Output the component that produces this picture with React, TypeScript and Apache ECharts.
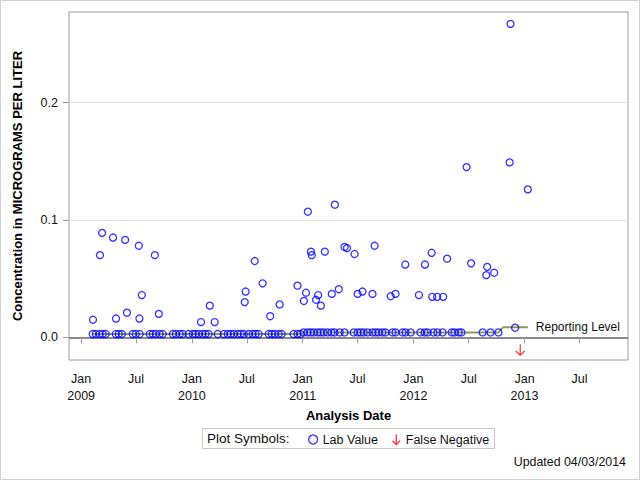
import React, { useEffect, useRef } from 'react';
import * as echarts from 'echarts';

// ---- data ----
const detectDates = [
  '2009-02-09', '2009-03-04', '2009-03-11', '2009-04-16', '2009-04-26', '2009-05-26', '2009-06-01',
  '2009-07-10', '2009-07-12', '2009-07-20', '2009-09-01', '2009-09-14',
  '2010-01-31', '2010-03-01', '2010-03-17', '2010-06-24', '2010-06-27', '2010-07-27', '2010-08-22',
  '2010-09-16', '2010-10-17', '2010-12-15',
  '2011-01-05', '2011-01-12', '2011-01-18', '2011-01-28', '2011-01-31', '2011-02-14', '2011-02-21',
  '2011-03-02', '2011-03-15', '2011-04-07', '2011-04-17', '2011-04-30', '2011-05-19', '2011-05-27',
  '2011-06-21', '2011-07-01', '2011-07-17', '2011-08-19', '2011-08-26', '2011-10-18', '2011-11-03',
  '2011-12-05',
  '2012-01-19', '2012-02-08', '2012-03-01', '2012-03-03', '2012-03-19', '2012-04-08', '2012-04-21',
  '2012-06-24', '2012-07-09', '2012-08-28', '2012-08-31', '2012-09-23', '2012-11-13', '2012-11-16',
  '2012-12-01', '2013-01-12',
];
const detectValues = [
  0.015, 0.070, 0.089, 0.085, 0.016, 0.083, 0.021,
  0.078, 0.016, 0.036, 0.070, 0.020,
  0.013, 0.027, 0.013, 0.030, 0.039, 0.065, 0.046,
  0.018, 0.028, 0.044,
  0.031, 0.038, 0.107, 0.073, 0.070, 0.032, 0.036,
  0.027, 0.073, 0.037, 0.113, 0.041, 0.077, 0.076,
  0.071, 0.037, 0.039, 0.037, 0.078, 0.035, 0.037,
  0.062,
  0.036, 0.062, 0.072, 0.0345, 0.0345, 0.0345, 0.067,
  0.145, 0.063, 0.053, 0.060, 0.055, 0.149, 0.267,
  0.0082, 0.126,
];

const lowDates = [
  '2009-02-08', '2009-02-18', '2009-03-03', '2009-03-13', '2009-03-23', '2009-04-25', '2009-05-05',
  '2009-05-15', '2009-06-20', '2009-06-30', '2009-07-13', '2009-08-15', '2009-08-25', '2009-09-04',
  '2009-09-17', '2009-09-27', '2009-10-30', '2009-11-09', '2009-11-22', '2009-12-02', '2009-12-21',
  '2010-01-04', '2010-01-13', '2010-01-23', '2010-02-05', '2010-02-15', '2010-02-25', '2010-03-27',
  '2010-04-16', '2010-04-29', '2010-05-09', '2010-05-19', '2010-06-01', '2010-06-11', '2010-06-21',
  '2010-07-07', '2010-07-20', '2010-07-30', '2010-08-09', '2010-09-11', '2010-09-21', '2010-10-01',
  '2010-10-14', '2010-10-24', '2010-12-02', '2010-12-15', '2010-12-25',
  '2011-01-04', '2011-01-17', '2011-01-27', '2011-02-06', '2011-02-19', '2011-03-01', '2011-03-11',
  '2011-03-24', '2011-04-06', '2011-04-16', '2011-05-03', '2011-05-19', '2011-06-18', '2011-07-01',
  '2011-07-11', '2011-07-21', '2011-08-03', '2011-08-19', '2011-08-29', '2011-09-08', '2011-09-21',
  '2011-10-01', '2011-10-24', '2011-11-03', '2011-11-26', '2011-12-06', '2011-12-23',
  '2012-01-24', '2012-02-07', '2012-02-17', '2012-03-07', '2012-03-20', '2012-04-06', '2012-05-06',
  '2012-05-15', '2012-05-29', '2012-06-07', '2012-08-16', '2012-09-11', '2012-10-07',
];
const lowValues = [
  0.0028, 0.0028, 0.0028, 0.0028, 0.0028, 0.0028, 0.0028,
  0.0028, 0.0028, 0.0028, 0.0028, 0.0028, 0.0028, 0.0028,
  0.0028, 0.0028, 0.0028, 0.0028, 0.0028, 0.0028, 0.0028,
  0.0028, 0.0028, 0.0028, 0.0028, 0.0028, 0.0028, 0.0028,
  0.0028, 0.0028, 0.0028, 0.0028, 0.0028, 0.0028, 0.0028,
  0.0028, 0.0028, 0.0028, 0.0028, 0.0028, 0.0028, 0.0028,
  0.0028, 0.0028, 0.0028, 0.0028, 0.0028,
  0.0042, 0.0042, 0.0042, 0.0042, 0.0042, 0.0042, 0.0042,
  0.0042, 0.0042, 0.0042, 0.0042, 0.0042, 0.0042, 0.0042,
  0.0042, 0.0042, 0.0042, 0.0042, 0.0042, 0.0042, 0.0042,
  0.0042, 0.0042, 0.0042, 0.0042, 0.0042, 0.0042,
  0.0042, 0.0042, 0.0042, 0.0042, 0.0042, 0.0042, 0.0042,
  0.0042, 0.0042, 0.0042, 0.0042, 0.0042, 0.0042,
];

const falseNegDates = ['2012-12-18'];
const falseNegValues = [-0.0105];

const reportDates = ['2009-02-08', '2010-12-25', '2011-01-04', '2012-10-07', '2012-10-22', '2013-01-12'];
const reportValues = [0.0028, 0.0028, 0.0042, 0.0042, 0.0085, 0.0085];

const xTickDates = [
  '2009-01-01', '2009-07-01', '2010-01-01', '2010-07-01', '2011-01-01',
  '2011-07-01', '2012-01-01', '2012-07-01', '2013-01-01', '2013-07-01',
];
const yTicks = [0, 0.1, 0.2];
const xRange = ['2008-11-22', '2013-12-08'];
const yRange = [-0.0193, 0.2771];

const FONT = '"Liberation Sans", Arial, Helvetica, sans-serif';

function ts(s: string): number {
  const [y, m, d] = s.split('-').map(Number);
  return Date.UTC(y, m - 1, d);
}

export default function App() {
  const ref = useRef<HTMLDivElement>(null);

  useEffect(() => {
    if (!ref.current) return;
    const chart = echarts.init(ref.current, undefined, { renderer: 'svg' });

    const labData = [
      ...detectDates.map((d, i) => [ts(d), detectValues[i]]),
      ...lowDates.map((d, i) => [ts(d), lowValues[i]]),
    ];
    const fnData = falseNegDates.map((d, i) => [ts(d), falseNegValues[i]]);
    const rlData = reportDates.map((d, i) => [ts(d), reportValues[i]]);
    const xTicks = xTickDates.map(ts);

    const arrowPath = 'path://M5,0 L5,12 M0.5,7.5 L5,12 L9.5,7.5';

    chart.setOption({
      animation: false,
      backgroundColor: '#ffffff',
      textStyle: { fontFamily: FONT },
      grid: {
        left: 69,
        right: 12,
        top: 12,
        bottom: 120,
        show: true,
        borderColor: '#9c9c9c',
        borderWidth: 1,
        backgroundColor: 'transparent',
      },
      xAxis: {
        type: 'value',
        min: ts(xRange[0]),
        max: ts(xRange[1]),
        name: 'Analysis Date',
        nameLocation: 'middle',
        nameGap: 46,
        nameTextStyle: { fontFamily: FONT, fontSize: 13, fontWeight: 'bold', color: '#000' },
        axisLine: { show: false },
        splitLine: { show: false },
        axisTick: {
          show: true,
          length: 6,
          customValues: xTicks,
          lineStyle: { color: '#9c9c9c' },
        },
        axisLabel: {
          customValues: xTicks,
          margin: 10,
          fontFamily: FONT,
          fontSize: 12.5,
          lineHeight: 17,
          color: '#111',
          formatter: (v: number) => {
            const d = new Date(v);
            return d.getUTCMonth() === 0 ? `Jan\n${d.getUTCFullYear()}` : 'Jul';
          },
        },
      },
      yAxis: {
        type: 'value',
        min: yRange[0],
        max: yRange[1],
        name: 'Concentration in MICROGRAMS PER LITER',
        nameLocation: 'middle',
        nameGap: 45,
        nameTextStyle: { fontFamily: FONT, fontSize: 13, fontWeight: 'bold', color: '#000' },
        axisLine: { show: false },
        splitLine: { show: false },
        axisTick: {
          show: true,
          length: 6,
          customValues: yTicks,
          lineStyle: { color: '#9c9c9c' },
        },
        axisLabel: {
          customValues: yTicks,
          margin: 11,
          fontFamily: FONT,
          fontSize: 12.5,
          color: '#111',
          formatter: (v: number) => v.toFixed(1),
        },
      },
      legend: {
        data: [
          {
            name: 'Lab Value',
            icon: 'circle',
            itemStyle: { color: 'rgba(0,0,0,0)', borderColor: '#0000ff', borderWidth: 1.3 },
          },
          {
            name: 'False Negative',
            icon: arrowPath,
            itemStyle: { color: 'none', borderColor: '#ff0000', borderWidth: 1.3 },
          },
        ],
        left: 308,
        top: 432,
        padding: 0,
        itemWidth: 9,
        itemHeight: 10,
        itemGap: 12,
        selectedMode: false,
        textStyle: { fontFamily: FONT, fontSize: 12.5, color: '#111' },
      },
      graphic: [
        {
          type: 'rect',
          silent: true,
          shape: { x: 0.5, y: 0.5, width: 639, height: 479 },
          style: { fill: 'none', stroke: '#d0d0d0', lineWidth: 1 },
        },
        {
          type: 'rect',
          silent: true,
          shape: { x: 202.5, y: 428.5, width: 292, height: 20 },
          style: { fill: 'none', stroke: '#c8c8c8', lineWidth: 1 },
        },
        {
          type: 'text',
          silent: true,
          x: 207,
          y: 438.5,
          style: {
            text: 'Plot Symbols:',
            fontFamily: FONT,
            fontSize: 13.5,
            fill: '#111',
            verticalAlign: 'middle',
          },
        },
        {
          type: 'text',
          silent: true,
          x: 626,
          y: 462,
          style: {
            text: 'Updated 04/03/2014',
            fontFamily: FONT,
            fontSize: 12.4,
            fill: '#111',
            align: 'right',
            verticalAlign: 'middle',
          },
        },
      ],
      series: [
        {
          name: 'Reporting Level',
          type: 'line',
          data: rlData,
          symbol: 'none',
          z: 1,
          lineStyle: { color: '#8c9c58', width: 2 },
          endLabel: {
            show: true,
            formatter: 'Reporting Level',
            distance: 8,
            fontFamily: FONT,
            fontSize: 12,
            color: '#111',
          },
          markLine: {
            silent: true,
            symbol: 'none',
            label: { show: false },
            z: 0,
            data: [
              { yAxis: 0.1, lineStyle: { color: '#e2e2e2', width: 1, type: 'solid' } },
              { yAxis: 0.2, lineStyle: { color: '#e2e2e2', width: 1, type: 'solid' } },
              { yAxis: 0, lineStyle: { color: '#8a8a8a', width: 2, type: 'solid' } },
            ],
          },
        },
        {
          name: 'Lab Value',
          type: 'scatter',
          data: labData,
          symbol: 'circle',
          symbolSize: 7,
          z: 3,
          itemStyle: { color: 'rgba(0,0,0,0)', borderColor: '#0000ff', borderWidth: 1.3 },
        },
        {
          name: 'False Negative',
          type: 'scatter',
          data: fnData,
          symbol: arrowPath,
          symbolSize: [9, 11],
          z: 3,
          itemStyle: { color: 'none', borderColor: '#ff0000', borderWidth: 1.3 },
        },
      ],
    });

    return () => chart.dispose();
  }, []);

  return (
    <div
      ref={ref}
      style={{ position: 'absolute', left: 0, top: 0, width: 640, height: 480 }}
    />
  );
}
